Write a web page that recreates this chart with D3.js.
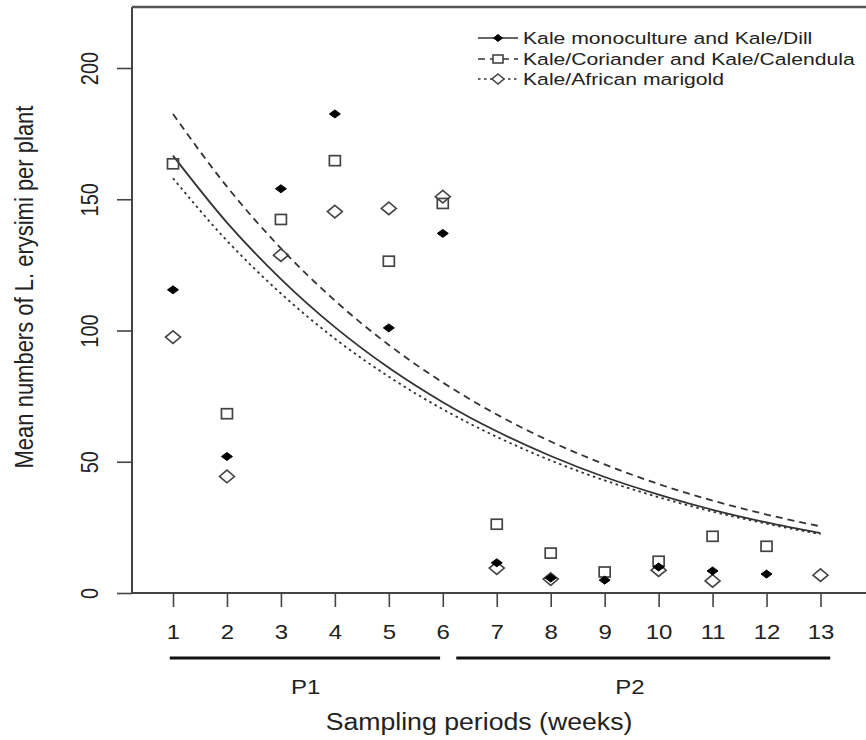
<!DOCTYPE html>
<html lang="en">
<head>
<meta charset="UTF-8">
<title>L. erysimi per plant</title>
<script src="https://d3js.org/d3.v7.min.js"></script>
<style>
  body { margin: 0; background: #fff; }
  text { font-family: "Liberation Sans", Arial, sans-serif; fill: #222; }
</style>
</head>
<body>
<div id="chart"></div>
<script>
// weeks and observed means
const weeks = [1, 2, 3, 4, 5, 6, 7, 8, 9, 10, 11, 12, 13];
const kaleDill = [115.5, 52, 154, 182.5, 101, 137, 11.5, 5.7, 4.9, 9.9, 8.4, 7.2, null];
const corianderCalendula = [163.5, 68.3, 142.3, 164.7, 126.4, 148.4, 26.2, 15.2, 8, 12.1, 21.6, 17.8, null];
const africanMarigold = [97.5, 44.4, 128.7, 145.3, 146.5, 151, 9.5, 5.3, null, 8.7, 4.6, null, 6.8];

// fitted curves, read at each week
const fitKaleDill = [166.6, 141.1, 119.6, 101.3, 85.8, 72.7, 61.6, 52.2, 44.2, 37.5, 31.7, 26.9, 22.8];
const fitCoriander = [182.5, 154.8, 131.3, 111.4, 94.5, 80.2, 68.0, 57.7, 49.0, 41.5, 35.2, 29.9, 25.4];
const fitMarigold = [158.0, 134.2, 114.1, 96.9, 82.4, 70.0, 59.5, 50.5, 42.9, 36.5, 31.0, 26.4, 22.4];

const yTicks = [0, 50, 100, 150, 200];
const periodLabels = ["P1", "P2"];
const periodStart = [0.94, 6.25];
const periodEnd = [5.95, 13.18];
const periodMid = [3.46, 9.47];

const legendLabels = ["Kale monoculture and Kale/Dill",
                      "Kale/Coriander and Kale/Calendula",
                      "Kale/African marigold"];

const w = 866, h = 740;
const sx = 1.2; // the picture is a bit wider than tall

const svg = d3.select("#chart").append("svg")
    .attr("width", w).attr("height", h);

const x = d3.scaleLinear().domain([1, 13]).range([173, 820.5]);
const y = d3.scaleLinear().domain([0, 200]).range([593, 68]);
const yTop = 223.2;

const ink = "#333";

// box: left side, top and bottom
svg.append("line")
   .attr("x1", 132).attr("x2", 132)
   .attr("y1", y(0)).attr("y2", y(yTop))
   .attr("stroke", "#444").attr("stroke-width", 2);
svg.append("line")
   .attr("x1", 132).attr("x2", w)
   .attr("y1", y(yTop)).attr("y2", y(yTop))
   .attr("stroke", "#555").attr("stroke-width", 2.5);
svg.append("line")
   .attr("x1", 132).attr("x2", w)
   .attr("y1", y(0)).attr("y2", y(0))
   .attr("stroke", "#444").attr("stroke-width", 2);

// y axis
const yAxis = svg.append("g")
   .attr("transform", "translate(132,0)")
   .call(d3.axisLeft(y).tickValues(yTicks).tickSize(15).tickFormat(d3.format("d")));
yAxis.select(".domain").remove();
yAxis.selectAll(".tick line").attr("stroke", "#444").attr("stroke-width", 1.6);
yAxis.selectAll(".tick text")
   .attr("x", null).attr("dy", null)
   .attr("text-anchor", "middle")
   .attr("dominant-baseline", "central")
   .attr("font-size", 20)
   .attr("fill", "#222")
   .attr("transform", "translate(-42,0) rotate(-90) scale(1,1.2)");

// x axis
const xAxis = svg.append("g")
   .attr("transform", `translate(0,${y(0)})`)
   .call(d3.axisBottom(x).tickValues(weeks).tickSize(14).tickFormat(d3.format("d")));
xAxis.select(".domain").remove();
xAxis.selectAll(".tick line").attr("stroke", "#444").attr("stroke-width", 1.6);
xAxis.selectAll(".tick text")
   .attr("y", null).attr("dy", null)
   .attr("dominant-baseline", "central")
   .attr("font-size", 20)
   .attr("fill", "#222")
   .attr("transform", `translate(0,39) scale(${sx},1)`);

// period bars
svg.selectAll(".period")
   .data(periodLabels)
   .enter().append("line")
   .attr("class", "period")
   .attr("x1", (d, i) => x(periodStart[i]))
   .attr("x2", (d, i) => x(periodEnd[i]))
   .attr("y1", 658).attr("y2", 658)
   .attr("stroke", "#111").attr("stroke-width", 3);
svg.selectAll(".plabel")
   .data(periodLabels)
   .enter().append("text")
   .attr("class", "plabel")
   .attr("text-anchor", "middle")
   .attr("dominant-baseline", "central")
   .attr("font-size", 20)
   .attr("transform", (d, i) => `translate(${x(periodMid[i])},687) scale(${sx},1)`)
   .text(d => d);

// axis titles
svg.append("text")
   .attr("text-anchor", "middle")
   .attr("dominant-baseline", "central")
   .attr("font-size", 23)
   .attr("transform", `translate(479,722) scale(1.16,1)`)
   .text("Sampling periods (weeks)");
svg.append("text")
   .attr("text-anchor", "middle")
   .attr("dominant-baseline", "central")
   .attr("font-size", 22)
   .attr("transform", `translate(24,287) rotate(-90) scale(1,1.2)`)
   .text("Mean numbers of L. erysimi per plant");

// fitted curves
const line = d3.line()
   .x((d, i) => x(weeks[i]))
   .y(d => y(d))
   .curve(d3.curveMonotoneX);

const fits = [
  { v: fitKaleDill, dash: null },
  { v: fitCoriander, dash: "7,5" },
  { v: fitMarigold, dash: "2.5,3.5" }
];
svg.selectAll(".fit")
   .data(fits)
   .enter().append("path")
   .attr("class", "fit")
   .attr("d", d => line(d.v))
   .attr("fill", "none")
   .attr("stroke", ink)
   .attr("stroke-width", 1.8)
   .attr("stroke-dasharray", d => d.dash);

// markers
function diamond(g, cx, cy, rx, ry, filled) {
  g.append("path")
   .attr("d", `M${cx},${cy - ry}L${cx + rx},${cy}L${cx},${cy + ry}L${cx - rx},${cy}Z`)
   .attr("fill", filled ? "#000" : "none")
   .attr("stroke", filled ? "#000" : "#444")
   .attr("stroke-width", filled ? 1 : 1.6);
}
function square(g, cx, cy) {
  g.append("rect")
   .attr("x", cx - 5.5).attr("y", cy - 5)
   .attr("width", 11).attr("height", 10)
   .attr("fill", "none").attr("stroke", "#444").attr("stroke-width", 1.7);
}

const pts = svg.append("g");
weeks.forEach((wk, i) => {
  if (africanMarigold[i] != null) diamond(pts, x(wk), y(africanMarigold[i]), 7.5, 6.3, false);
  if (corianderCalendula[i] != null) square(pts, x(wk), y(corianderCalendula[i]));
  if (kaleDill[i] != null) diamond(pts, x(wk), y(kaleDill[i]), 5.5, 4, true);
});

// legend
const legend = svg.append("g");
const legendY = [38, 59, 79];
legendLabels.forEach((lab, i) => {
  const ly = legendY[i];
  legend.append("line")
     .attr("x1", 478).attr("x2", 518)
     .attr("y1", ly).attr("y2", ly)
     .attr("stroke", ink).attr("stroke-width", 1.6)
     .attr("stroke-dasharray", fits[i].dash);
  if (i === 0) diamond(legend, 498, ly, 4.5, 3.5, true);
  if (i === 1) {
    legend.append("rect").attr("x", 493).attr("y", ly - 4)
      .attr("width", 10).attr("height", 8)
      .attr("fill", "#fff").attr("stroke", "#444").attr("stroke-width", 1.6);
  }
  if (i === 2) {
    legend.append("path")
      .attr("d", `M498,${ly - 5}L504,${ly}L498,${ly + 5}L492,${ly}Z`)
      .attr("fill", "#fff").attr("stroke", "#444").attr("stroke-width", 1.6);
  }
  legend.append("text")
     .attr("dominant-baseline", "central")
     .attr("font-size", 17)
     .attr("transform", `translate(523,${ly}) scale(1.245,1)`)
     .text(lab);
});
</script>
</body>
</html>
